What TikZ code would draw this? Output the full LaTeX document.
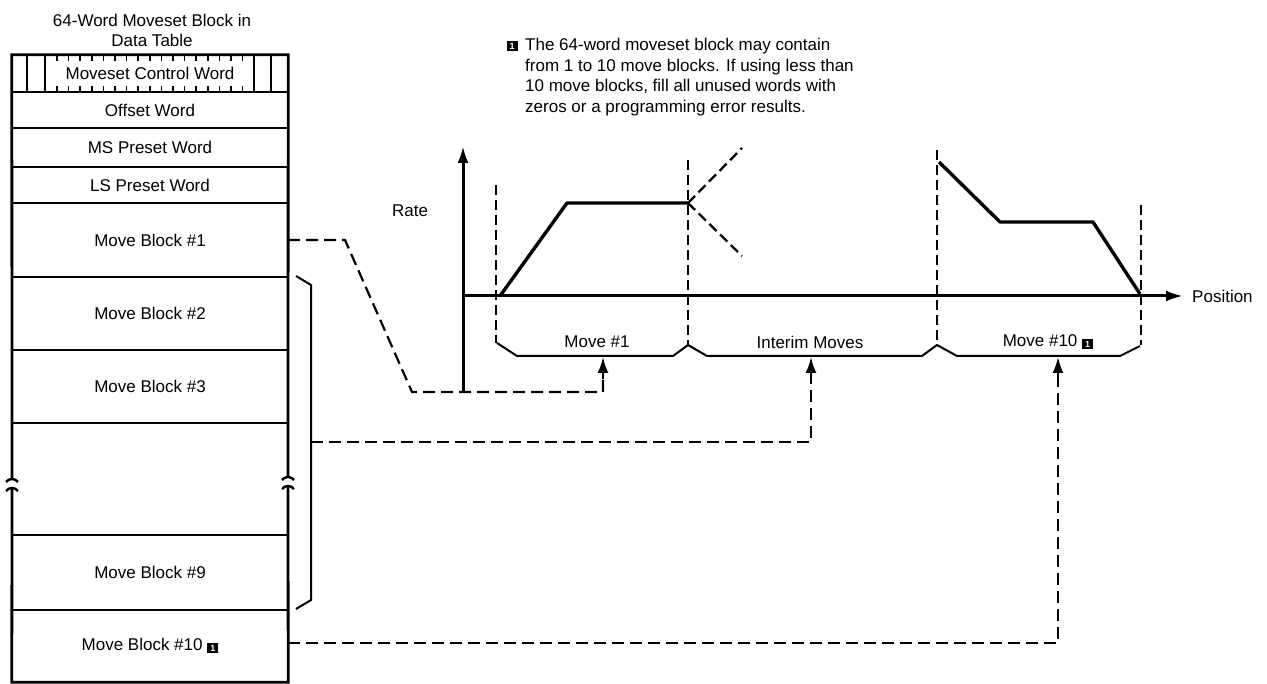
\documentclass[tikz,border=0pt]{standalone}
\usepackage{fontspec}
\setmainfont{Liberation Sans}
\usetikzlibrary{arrows.meta}
\newcommand\notemark{{\setlength\fboxsep{2pt}\raisebox{-0.5pt}{\colorbox{black}{\makebox[7pt]{\textcolor{white}{\fontsize{9}{9}\selectfont\bfseries 1}}}}}}
\begin{document}
\begin{tikzpicture}[x=1pt,y=-1pt,
  font=\fontsize{17}{20}\selectfont,
  lbl/.style={inner sep=0pt},
  rowbox/.style={minimum width=276pt, inner sep=0pt},
  border/.style={line width=2.8pt},
  inner/.style={line width=2pt},
  axis/.style={line width=3pt},
  prof/.style={line width=3.4pt, line join=round},
  vdash/.style={line width=2.3pt, dash pattern=on 10pt off 5pt},
  conn/.style={line width=2.2pt, dash pattern=on 12pt off 6pt},
  tip/.style={line width=2.2pt, -{Latex[length=16pt,width=11pt]}},
  brk/.style={line width=2.4pt}
]
\useasboundingbox (0,0) rectangle (1267,684);

% title
\node[lbl, align=center] (title) at (152,30) {64-Word Moveset Block in\\Data Table};

% rows
\node[rowbox, minimum height=37pt] (ctrl) at (150,73.5) {Moveset Control Word};
\node[rowbox, minimum height=36pt] (off) at (150,110) {Offset Word};
\node[rowbox, minimum height=39pt] (ms) at (150,147.5) {MS Preset Word};
\node[rowbox, minimum height=36pt] (ls) at (150,185) {LS Preset Word};
\node[rowbox, minimum height=74pt] (mb1) at (150,240) {Move Block \#1};
\node[rowbox, minimum height=73pt] (mb2) at (150,313.5) {Move Block \#2};
\node[rowbox, minimum height=73pt] (mb3) at (150,386.5) {Move Block \#3};
\node[rowbox, minimum height=112pt] (gap) at (150,479) {};
\node[rowbox, minimum height=75pt] (mb9) at (150,572.5) {Move Block \#9};
\node[rowbox, minimum height=72pt] (mb10) at (150,646) {Move Block \#10 \notemark};

\foreach \r in {ctrl,off,ms,ls,mb1,mb2,mb3,gap,mb9}
  \draw[inner] (\r.south west) -- (\r.south east);

% control word bit cells
\foreach \x in {27,45,254,271}
  \draw[inner] (\x,55) -- (\x,92);
\foreach \x in {57,68.6,...,250}{
  \draw[line width=1.6pt] (\x,55) -- (\x,61);
  \draw[line width=1.6pt] (\x,92) -- (\x,86);
}

% outer border with break
\draw[border] (12,479) -- (ctrl.north west) -- (ctrl.north east) -- (288,477);
\draw[border] (12,488) -- (mb10.south west) -- (mb10.south east) -- (288,486);
\draw[brk] (6,482) .. controls (9,478) and (15,478) .. (18,482);
\draw[brk] (6,491) .. controls (9,487) and (15,487) .. (18,491);
\draw[brk] (282,480) .. controls (285,476) and (291,476) .. (294,480);
\draw[brk] (282,489) .. controls (285,485) and (291,485) .. (294,489);

% bracket over blocks 2..9
\draw[inner] (296,276) -- (311,285) -- (311,600) -- (296,609);
\coordinate (brkmid) at (311,442);

% graph
\draw[axis,-{Latex[length=17pt,width=11pt]}] (463,392) -- (463,146);
\draw[axis,-{Latex[length=17pt,width=11pt]}] (463,296) -- (1183,296);
\node[lbl, anchor=west] (pos) at (1192,296) {Position};
\node[lbl] (rate) at (410,211) {Rate};

\draw[vdash] (496,185) -- (496,343);
\draw[vdash] (688,160) -- (688,345);
\draw[vdash] (937,150) -- (937,345);
\draw[vdash] (1141,205) -- (1141,345);

\draw[prof] (500,296) -- (567,203) -- (688,203);
\draw[vdash] (688,203) -- (742,148);
\draw[vdash] (688,203) -- (742,256);
\draw[prof] (939,162) -- (1000,222) -- (1093,222) -- (1140,294);

\draw[inner, line join=round] (497,343) -- (517,356) -- (673,356) -- (688,345) -- (707,356) -- (922,356) -- (937,345) -- (957,356) -- (1120,356) -- (1140,346);

\node[lbl] (mv1) at (597,342) {Move \#1};
\node[lbl] (mvi) at (810,342) {Interim Moves};
\node[lbl] (mv10) at (1048,342) {Move \#10 \notemark};

\coordinate (a1) at (603,357);
\coordinate (a2) at (811,357);
\coordinate (a3) at (1058,357);

\draw[conn] (mb1.east) -- (345,240) -- (412,392) -| ([yshift=-18pt]a1);
\draw[tip] ([yshift=-22pt]a1) -- (a1);
\draw[conn] (brkmid) -| ([yshift=-18pt]a2);
\draw[tip] ([yshift=-22pt]a2) -- (a2);
\draw[conn] ([yshift=3pt]mb10.east) -| ([yshift=-18pt]a3);
\draw[tip] ([yshift=-22pt]a3) -- (a3);

% note
\node[lbl, anchor=center] (nm) at (512,46) {\notemark};
\node[lbl, anchor=north west, align=left, font=\fontsize{17}{20.6}\selectfont] (note) at (525,38)
  {The 64-word moveset block may contain\\from 1 to 10 move blocks. If using less than\\10 move blocks, fill all unused words with\\zeros or a programming error results.};
\end{tikzpicture}
\end{document}
